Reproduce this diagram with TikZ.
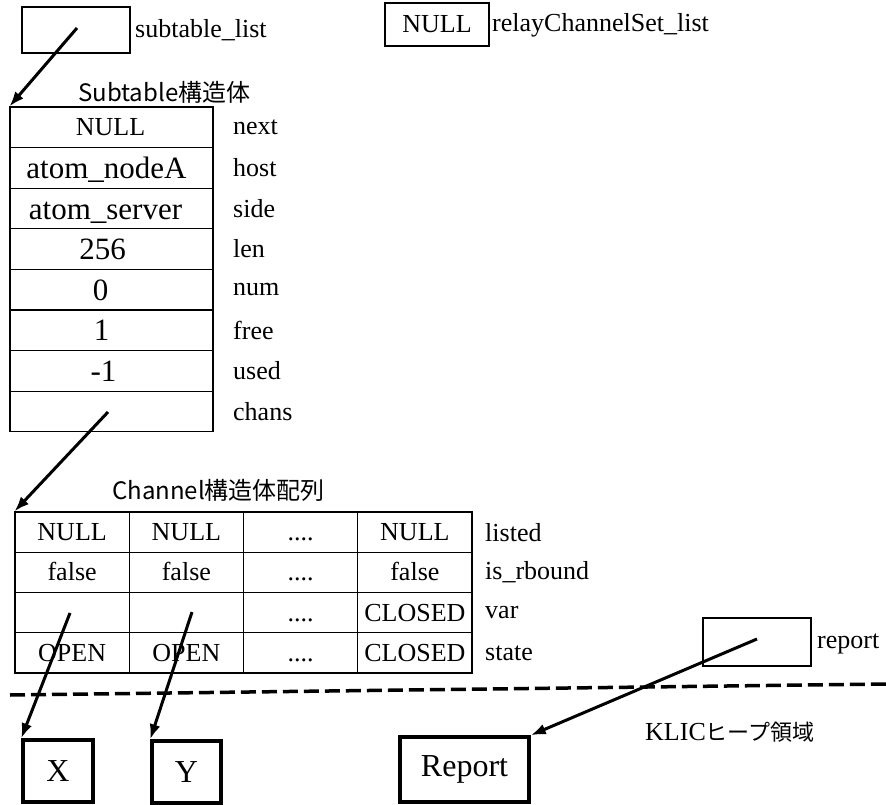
\documentclass[tikz,border=0pt]{standalone}
\usepackage{fontspec}
\setmainfont{Liberation Serif}
\newfontfamily\cjk{Noto Sans CJK JP}
\usetikzlibrary{arrows.meta}
\newcommand{\fs}[1]{\fontsize{#1}{#1}\selectfont}
\protected\def\fdots{....}
\begin{document}
\begin{tikzpicture}[x=1pt,y=-1pt,
  cell/.style={draw,line width=1.1pt,minimum width=203pt,minimum height=40.6pt,inner sep=0pt,text height=19pt,text depth=2pt,font=\fs{26}},
  ccell/.style={draw,line width=1.1pt,minimum width=114.25pt,minimum height=40.25pt,inner sep=0pt,text height=19pt,text depth=2pt,font=\fs{26}},
  lbl/.style={anchor=west,inner sep=0pt,font=\fs{26}},
  ptrbox/.style={draw,line width=1.1pt,inner sep=0pt,font=\fs{26}},
  heapbox/.style={draw,line width=3.5pt,inner sep=0pt,font=\fs{32}},
  big/.style={font=\fs{31},text height=22pt,text depth=1pt},
  ptr/.style={line width=3pt,-{Latex[length=15pt,width=11pt]}},
  hdr/.style={anchor=west,inner sep=0pt,font=\cjk\fs{24}}]
\useasboundingbox (0,0) rectangle (886,805);
% top pointer boxes
\node[ptrbox,minimum width=108pt,minimum height=46pt] (stl) at (76,30) {};
\node[lbl] (stllbl) at (135,30) {subtable\_list};
\node[ptrbox,minimum width=104pt,minimum height=43pt] (rcl) at (437,24.5) {NULL};
\node[lbl] (rcllbl) at (492,25) {relayChannelSet\_list};
% Subtable structure
\node[hdr] (sthdr) at (78,92) {Subtable構造体};
\foreach \v/\l/\st/\sh [count=\i from 0] in {NULL/next/cell/2, atom\_nodeA/host/big/10, atom\_server/side/big/12, 256/len/big/18, 0/num/big/22, 1/free/big/20, -1/used/big/16, {}/chans/cell/0} {
  \node[cell,\st] (s\i) at (111.5,{107+40.6*(\i+0.5)}) {\v\hspace*{\sh pt}};
  \node[lbl] (sl\i) at (233,{107+40.6*(\i+0.5)}) {\l};
}
% Channel array
\node[hdr] (chhdr) at (112,490) {Channel構造体配列};
\foreach \a/\b/\c/\d/\l [count=\r from 0] in {NULL/NULL/\fdots/NULL/listed, false/false/\fdots/false/is\_rbound, {}/{}/\fdots/CLOSED/var, OPEN/OPEN/\fdots/CLOSED/state} {
  \node[ccell] (c\r0) at ({15+114.25*0.5},{512+40.25*(\r+0.5)}) {\a};
  \node[ccell] (c\r1) at ({15+114.25*1.5},{512+40.25*(\r+0.5)}) {\b};
  \node[ccell] (c\r2) at ({15+114.25*2.5},{512+40.25*(\r+0.5)}) {\c};
  \node[ccell] (c\r3) at ({15+114.25*3.5},{512+40.25*(\r+0.5)}) {\d};
  \node[lbl] (cl\r) at (485,{512+40.25*(\r+0.5)}) {\l};
}
% report pointer
\node[ptrbox,minimum width=108pt,minimum height=48pt] (rep) at (757,642) {};
\node[lbl] (replbl) at (817,644) {report};
% heap boundary
\coordinate (dl) at (10,695);
\coordinate (dr) at (886,684);
\draw[line width=3.5pt,dash pattern=on 15pt off 6pt] (dl) -- (dr);
\node[anchor=west,inner sep=0pt] (klic) at (645,732) {\fs{26}KLIC\cjk\fs{22}ヒープ領域};
% heap objects
\node[heapbox,minimum width=70pt,minimum height=62pt] (X) at (58,771) {X};
\node[heapbox,minimum width=69pt,minimum height=62pt] (Y) at (186.5,772) {Y};
\node[heapbox,minimum width=129pt,minimum height=65pt] (R) at (464.5,769.5) {Report};
% pointers
\coordinate (p1) at (77,28);
\coordinate (p2) at (108,412);
\coordinate (px) at (70,613);
\coordinate (py) at (192,612);
\coordinate (pr) at (757,639);
\draw[ptr] (p1) -- (s0.north west);
\draw[ptr] (p2) -- (c00.north west);
\draw[ptr] (px) -- (X.north west);
\draw[ptr] (py) -- (Y.north west);
\draw[ptr] (pr) -- (R.north east);
\end{tikzpicture}
\end{document}
